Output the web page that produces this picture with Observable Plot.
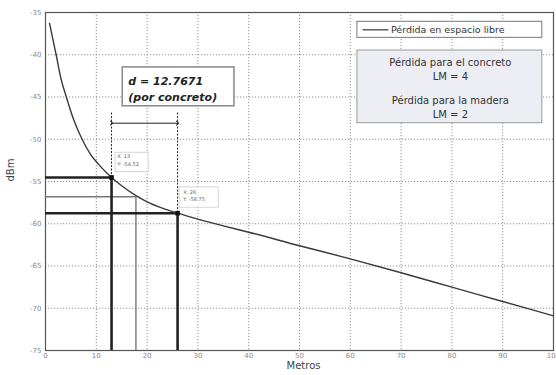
<!DOCTYPE html>
<html>
<head>
<meta charset="utf-8">
<script src="https://cdn.jsdelivr.net/npm/d3@7"></script>
<script src="https://cdn.jsdelivr.net/npm/@observablehq/plot@0.6"></script>
<style>
  html, body { margin: 0; padding: 0; background: #fff; }
  #chart svg { display: block; }
</style>
</head>
<body>
<div id="chart"></div>
<script>
// Free-space loss curve
const distance = [0.8, 1.5, 2.1, 3, 4.1, 5.5, 7.2, 9, 10.5, 13, 15, 17.5, 20, 23, 26, 30, 35, 40, 50, 60, 70, 80, 90, 100];
const loss     = [-36.3, -38.3, -40, -42.7, -45, -47.6, -50, -51.9, -53.0, -54.52, -55.5, -56.55, -57.4, -58.15, -58.75, -59.45, -60.25, -61.0, -62.6, -64.15, -65.8, -67.5, -69.2, -70.9];

// Marked points (data tips)
const markX = [13, 26];
const markY = [-54.52, -58.75];
const markLabel = ["X: 13\nY: -54.52", "X: 26\nY: -58.75"];
// Reference (madera) point
const refX = [17.8];
const refY = [-56.8];

const xTicks = [0, 10, 20, 30, 40, 50, 60, 70, 80, 90, 100];
const yTicks = [-35, -40, -45, -50, -55, -60, -65, -70, -75];

const dText = ["d = 12.7671", "(por concreto)"];
const legendText = "Pérdida en espacio libre";
const boxText = ["Pérdida para el concreto", "LM = 4", "Pérdida para la madera", "LM = 2"];
const xLabel = "Metros";
const yLabel = "dBm";

const curve = distance.map((d, i) => ({x: d, y: loss[i]}));
const marks = markX.map((d, i) => ({x: d, y: markY[i], label: markLabel[i]}));

const font = "DejaVu Sans, Verdana, sans-serif";

const chart = Plot.plot({
  width: 556,
  height: 375,
  marginLeft: 45,
  marginRight: 3,
  marginTop: 12,
  marginBottom: 25,
  style: {fontFamily: font, background: "#fff"},
  x: {domain: [0, 100]},
  y: {domain: [-75, -35]},
  marks: [
    Plot.gridX(xTicks, {stroke: "#777", strokeOpacity: 0.8, strokeDasharray: "1.2,1.8"}),
    Plot.gridY(yTicks, {stroke: "#777", strokeOpacity: 0.8, strokeDasharray: "1.2,1.8"}),
    Plot.axisX(xTicks, {tickSize: 0, tickPadding: 3, fontSize: 7, color: "#888", label: null}),
    Plot.axisY(yTicks, {tickSize: 0, tickPadding: 4, fontSize: 7, color: "#888", label: null, tickFormat: d => d}),
    Plot.frame({stroke: "#555", strokeWidth: 1.2}),
    // thin gray reference lines (madera)
    Plot.ruleY(refY, {x1: 0, x2: refX[0], stroke: "#777", strokeWidth: 1.4}),
    Plot.ruleX(refX, {y1: -75, y2: refY[0], stroke: "#777", strokeWidth: 1.4}),
    // thick lines to the marked points
    Plot.ruleY(marks, {y: "y", x1: 0, x2: "x", stroke: "#222", strokeWidth: 2.6}),
    Plot.ruleX(marks, {x: "x", y1: -75, y2: "y", stroke: "#222", strokeWidth: 2.6}),
    // curve
    Plot.line(curve, {x: "x", y: "y", stroke: "#3a3a3a", strokeWidth: 1.4, curve: "monotone-x"}),
    // dashed dimension lines
    Plot.ruleX(marks, {x: "x", y1: -46.9, y2: "y", stroke: "#222", strokeWidth: 1, strokeDasharray: "2,1.5"}),
    Plot.link([{x1: markX[0], x2: markX[1], y: -48.1}], {x1: "x1", x2: "x2", y1: "y", y2: "y", stroke: "#222", strokeWidth: 1, markerStart: "arrow", markerEnd: "arrow"}),
    // data tips
    Plot.rect([{x1: 13.8, x2: 20.3, y1: -51.6, y2: -53.9}, {x1: 26.4, x2: 34.1, y1: -55.7, y2: -58.1}],
      {x1: "x1", x2: "x2", y1: "y1", y2: "y2", fill: "#fff", fillOpacity: 0.85, stroke: "#ccc", strokeWidth: 0.8}),
    Plot.text(marks, {x: d => d.x + 1.1, y: d => d.y + 2.9, text: "label", textAnchor: "start", lineAnchor: "top", fontSize: 5, fill: "#666", lineHeight: 1.5}),
    Plot.dot(marks, {x: "x", y: "y", symbol: "square", r: 2.6, fill: "#111"}),
    // d annotation box
    Plot.rect([{x1: 15.2, x2: 37.2, y1: -41.5, y2: -46.1}], {x1: "x1", x2: "x2", y1: "y1", y2: "y2", fill: "#fff", stroke: "#888", strokeWidth: 1.5}),
    Plot.text(dText, {x: 16.3, y: (d, i) => -43.2 - i * 1.9, text: d => d, textAnchor: "start", fontSize: 11, fontWeight: "bold", fontStyle: "italic", fill: "#222"}),
    // legend box
    Plot.rect([{x1: 61.4, x2: 97.8, y1: -36.1, y2: -38.0}], {x1: "x1", x2: "x2", y1: "y1", y2: "y2", fill: "#fff", stroke: "#777", strokeWidth: 1}),
    Plot.link([{x1: 62.4, x2: 67.5, y: -37.05}], {x1: "x1", x2: "x2", y1: "y", y2: "y", stroke: "#333", strokeWidth: 1.2}),
    Plot.text([legendText], {x: 68.0, y: -37.05, text: d => d, textAnchor: "start", fontSize: 9.5, fill: "#333"}),
    // info box
    Plot.rect([{x1: 61.4, x2: 97.8, y1: -39.5, y2: -48.1}], {x1: "x1", x2: "x2", y1: "y1", y2: "y2", fill: "#eceef3", stroke: "#999", strokeWidth: 1}),
    Plot.text(boxText, {x: 79.7, y: (d, i) => [-40.9, -42.6, -45.4, -47.1][i], text: d => d, fontSize: 10, fill: "#333"}),
    // axis labels
    Plot.text([yLabel], {frameAnchor: "left", dx: -35, text: d => d, rotate: -90, fontSize: 10, fill: "#444"}),
    Plot.text([xLabel], {frameAnchor: "bottom", dy: 18, dx: 4, text: d => d, fontSize: 10, fill: "#444"})
  ]
});
document.getElementById("chart").appendChild(chart);
</script>
</body>
</html>
